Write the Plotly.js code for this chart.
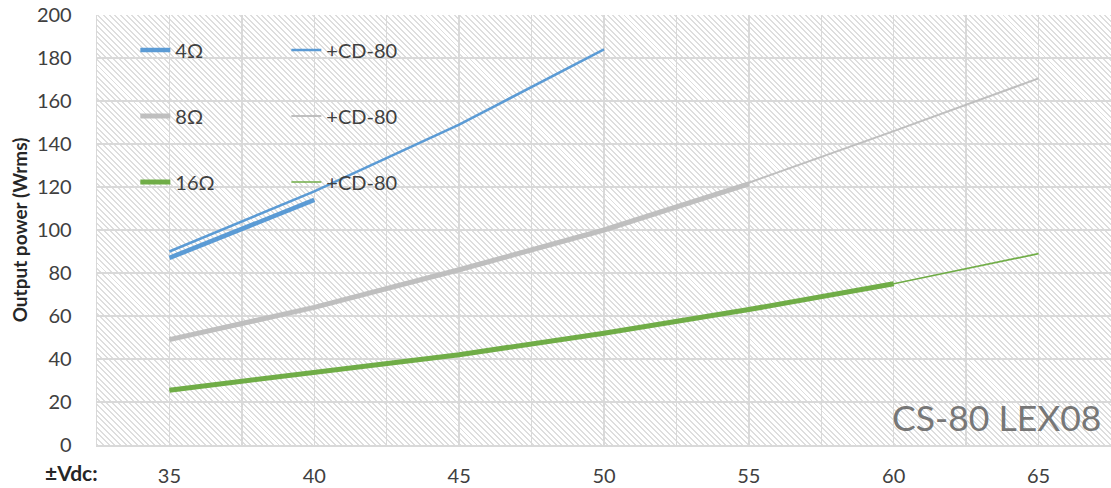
<!DOCTYPE html>
<html>
<head>
<meta charset="utf-8">
<script src="https://cdn.plot.ly/plotly-3.0.1.min.js"></script>
<style>
  html, body { margin: 0; padding: 0; background: #ffffff; }
  #wrap { position: relative; width: 1111px; height: 488px; background: #ffffff; overflow: hidden; }
  #hatch { position: absolute; left: 97px; top: 15px; width: 1014px; height: 430px;
    background: repeating-linear-gradient(45deg, #dedede 0px, #dedede 1.4px, #ffffff 1.4px, #ffffff 4px); }
  #chart { position: absolute; left: 0; top: 0; width: 1111px; height: 488px; }
</style>
</head>
<body>
<div id="wrap"><div id="hatch"></div><div id="chart"></div></div>
<script>
// Supply voltage (±Vdc)
const vdc = [35, 40, 45, 50, 55, 60, 65];

// Output power (Wrms)
const p4 = [87, 114];
const p4cd = [90, 118, 149, 184];
const p8 = [49, 64, 81.5, 100, 121.5];
const p8cd = [49, 64, 81.5, 100, 122, 146, 170.5];
const p16 = [25.5, 33.5, 42, 52, 63, 75];
const p16cd = [25.5, 33.5, 42, 52, 63, 75, 89];

const names = ['4Ω', '+CD-80', '8Ω', '+CD-80', '16Ω', '+CD-80'];
const xRange = [32.5, 67.5];
const yRange = [0, 200];

const blue = '#5B9BD5', gray = '#BFBFBF', green = '#70AD47';

function tr(y, name, color, width, legend) {
  return { x: vdc.slice(0, y.length), y: y, name: name, type: 'scatter', mode: 'lines',
    line: { color: color, width: width }, legend: legend, hoverinfo: 'skip' };
}

const data = [
  tr(p4, names[0], blue, 4.5, 'legend'),
  tr(p8, names[2], gray, 5, 'legend2'),
  tr(p16, names[4], green, 5, 'legend3'),
  tr(p4cd, names[1], blue, 2.5, 'legend'),
  tr(p8cd, names[3], gray, 2, 'legend2'),
  tr(p16cd, names[5], green, 1.6, 'legend3')
];

const txt = { family: 'Lato, "Open Sans", sans-serif', size: 20, color: '#404040' };
function leg(y) {
  return { x: 0.0378, y: y, xanchor: 'left', yanchor: 'middle', orientation: 'h',
    bgcolor: 'rgba(0,0,0,0)', font: txt, entrywidth: 106, traceorder: 'normal' };
}

const layout = {
  width: 1111, height: 488,
  margin: { l: 97, r: 0, t: 15, b: 43 },
  paper_bgcolor: 'rgba(0,0,0,0)', plot_bgcolor: 'rgba(0,0,0,0)',
  font: txt,
  showlegend: true,
  legend: leg(0.9186),
  legend2: leg(0.765),
  legend3: leg(0.6116),
  xaxis: {
    range: xRange, tick0: 35, dtick: 5, showgrid: true, gridcolor: '#d9d9d9', gridwidth: 1.3,
    minor: { tick0: 32.5, dtick: 2.5, showgrid: true, gridcolor: '#d9d9d9', gridwidth: 1.3, ticks: '' },
    showline: true, linecolor: '#d9d9d9', linewidth: 1.5, zeroline: false,
    ticks: 'outside', ticklen: 12, tickcolor: 'rgba(0,0,0,0)', tickfont: txt
  },
  yaxis: {
    range: yRange, dtick: 20, showgrid: true, gridcolor: '#d9d9d9', gridwidth: 1.3,
    showline: true, linecolor: '#d9d9d9', linewidth: 1.3, zeroline: false,
    ticks: 'outside', ticklen: 20, tickcolor: 'rgba(0,0,0,0)', tickfont: txt,
    title: { text: 'Output power (Wrms)', font: { family: 'Lato, "Open Sans", sans-serif', size: 19, color: '#262626', weight: 'bold' }, standoff: 4 }
  },
  annotations: [
    { text: '±Vdc:', xref: 'paper', yref: 'paper', x: 0.003, y: -0.065, xanchor: 'right', yanchor: 'middle',
      showarrow: false, font: { family: 'Lato, "Open Sans", sans-serif', size: 21, color: '#262626', weight: 'bold' } },
    { text: 'CS-80 LEX08', xref: 'paper', yref: 'paper', x: 0.992, y: 0.065, xanchor: 'right', yanchor: 'middle',
      showarrow: false, font: { family: 'Lato, "Open Sans", sans-serif', size: 35.5, color: '#777777', weight: 400 } }
  ]
};

Plotly.newPlot('chart', data, layout, { displayModeBar: false, staticPlot: true });
</script>
</body>
</html>
